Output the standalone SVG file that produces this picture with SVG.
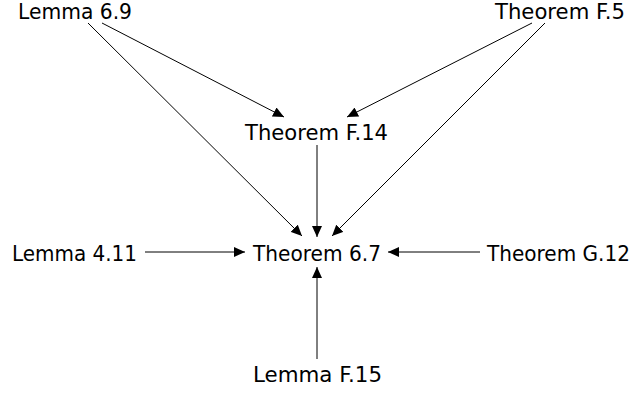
<svg xmlns="http://www.w3.org/2000/svg" width="635" height="394" viewBox="0 0 635 394">
<defs>
<marker id="ah" viewBox="0 0 11 10" refX="11" refY="5" markerWidth="11" markerHeight="10" markerUnits="userSpaceOnUse" orient="auto">
<path d="M0,0 L11,5 L0,10 Z" fill="#000"/>
</marker>
</defs>
<style>
text{font-family:"DejaVu Sans","Liberation Sans",sans-serif;font-size:21px;fill:#000;text-anchor:middle}
.c line{stroke:#000;stroke-width:1;marker-end:url(#ah)}
</style>
<rect width="635" height="394" fill="#fff"/>
<g class="c" id="connectors">
<line x1="102" y1="23" x2="284" y2="117"/>
<line x1="88" y1="23" x2="302" y2="236"/>
<line x1="532" y1="23" x2="347" y2="117"/>
<line x1="545" y1="23" x2="332" y2="236"/>
<line x1="317" y1="145" x2="317" y2="237"/>
<line x1="145" y1="252" x2="245" y2="252"/>
<line x1="480" y1="252" x2="388" y2="252"/>
<line x1="317" y1="359" x2="317" y2="267"/>
</g>
<g id="lemma69"><text x="75" y="19" textLength="114" lengthAdjust="spacingAndGlyphs">Lemma 6.9</text></g>
<g id="thmF5"><text x="560" y="19" textLength="130" lengthAdjust="spacingAndGlyphs">Theorem F.5</text></g>
<g id="thmF14"><text x="316.5" y="140" textLength="143" lengthAdjust="spacingAndGlyphs">Theorem F.14</text></g>
<g id="thm67"><text x="317" y="261" textLength="128" lengthAdjust="spacingAndGlyphs">Theorem 6.7</text></g>
<g id="lemma411"><text x="74.5" y="261" textLength="125" lengthAdjust="spacingAndGlyphs">Lemma 4.11</text></g>
<g id="thmG12"><text x="558.5" y="261" textLength="143" lengthAdjust="spacingAndGlyphs">Theorem G.12</text></g>
<g id="lemmaF15"><text x="317.5" y="382" textLength="129" lengthAdjust="spacingAndGlyphs">Lemma F.15</text></g>
</svg>
